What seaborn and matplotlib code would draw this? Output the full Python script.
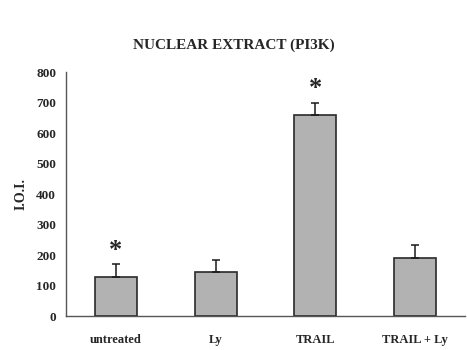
import numpy as np
import seaborn as sns
import matplotlib.pyplot as plt

# values
groups = ['untreated', 'Ly', 'TRAIL', 'TRAIL + Ly']
ioi = [128, 144, 660, 190]
err = [42, 40, 40, 43]
significant = [True, False, True, False]

sns.set_style('white')
plt.rcParams['font.family'] = ['Liberation Serif', 'DejaVu Serif']

fig = plt.figure(figsize=(4.67, 3.5), dpi=100)
ax = fig.add_axes([0.141, 0.097, 0.855, 0.697])

sns.barplot(x=groups, y=ioi, color='#b2b2b2', edgecolor='#2a2a2a',
            linewidth=1.2, width=0.42, saturation=1, ax=ax)
ax.errorbar(np.arange(len(groups)), ioi, yerr=[[0] * len(err), err],
            fmt='none', ecolor='#1a1a1a', elinewidth=1.1, capsize=3, capthick=1.1)

# significance stars above the error bars
for i, (v, e, s) in enumerate(zip(ioi, err, significant)):
    if s:
        ax.text(i, v + e + 8, '*', ha='center', va='bottom',
                fontsize=19, fontweight='bold')

ax.set_ylim(0, 800)
ax.set_xlim(-0.5, 3.5)
ax.set_yticks(range(0, 801, 100))
ax.set_xticks([0, 1, 2, 3])
ax.set_xticks([0.5, 1.5, 2.5], minor=True)
ax.set_xticklabels(groups, fontsize=9, fontweight='bold')
ax.tick_params(axis='x', which='major', length=0, pad=13)
ax.tick_params(axis='x', which='minor', length=3, color='#555555', direction='out')
ax.tick_params(axis='y', length=3, color='#555555', direction='out', labelsize=9.5, pad=4)
for lab in ax.get_yticklabels():
    lab.set_fontweight('bold')

sns.despine(ax=ax)
for side in ['left', 'bottom']:
    ax.spines[side].set_color('#555555')
    ax.spines[side].set_linewidth(1.0)

ax.set_ylabel('I.O.I.', fontsize=10, fontweight='bold', labelpad=6)
ax.set_title('NUCLEAR EXTRACT (PI3K)', fontsize=11, fontweight='bold',
             pad=17, x=0.42)

fig.savefig('out.png', dpi=100)
